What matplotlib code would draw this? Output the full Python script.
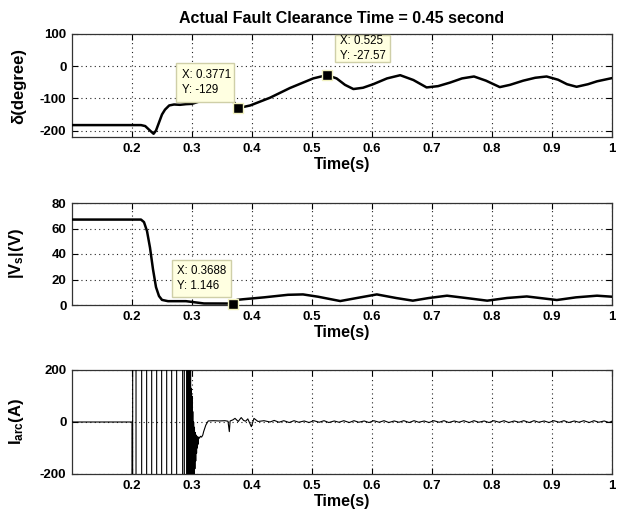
import matplotlib
matplotlib.use("Agg")
import matplotlib.pyplot as plt
import numpy as np
from matplotlib.patches import Rectangle

plt.rcParams['font.family'] = ['Liberation Sans', 'DejaVu Sans']
plt.rcParams['mathtext.fontset'] = 'custom'
plt.rcParams['mathtext.rm'] = 'Liberation Sans:bold'
plt.rcParams['mathtext.bf'] = 'Liberation Sans:bold'
plt.rcParams['mathtext.it'] = 'Liberation Sans:bold'

# ---- data ----
# rotor angle delta (degree)
t_delta = [0.10, 0.215, 0.222, 0.230, 0.236, 0.240, 0.245, 0.250, 0.255, 0.262, 0.270, 0.280,
           0.290, 0.300, 0.320, 0.350, 0.370, 0.3771, 0.385, 0.397, 0.430, 0.463, 0.502, 0.525,
           0.541, 0.555, 0.569, 0.585, 0.602, 0.625, 0.647, 0.669, 0.691, 0.710, 0.730, 0.750,
           0.770, 0.790, 0.813, 0.830, 0.852, 0.872, 0.891, 0.910, 0.925, 0.941, 0.960, 0.975, 1.0]
delta = [-183, -183, -186, -200, -210, -200, -175, -150, -135, -122, -119, -120,
         -118, -117, -105, -100, -112, -129, -127, -122, -98, -68, -38, -27.57,
         -38, -58, -71, -67, -56, -38, -28, -43, -66, -62, -51, -38,
         -32, -45, -65, -58, -45, -36, -32, -42, -56, -64, -56, -47, -37]

# |Vs| (V)
t_vs = [0.10, 0.215, 0.220, 0.225, 0.230, 0.235, 0.240, 0.245, 0.250, 0.260, 0.290, 0.300,
        0.320, 0.3688, 0.375, 0.385, 0.420, 0.460, 0.485, 0.510, 0.547, 0.575, 0.608, 0.640,
        0.668, 0.695, 0.725, 0.760, 0.792, 0.825, 0.858, 0.885, 0.908, 0.940, 0.975, 1.0]
vs = [67, 67, 65, 58, 45, 28, 14, 7, 4, 3, 3, 2.4,
      1.2, 1.146, 4, 4.5, 6, 8, 8.3, 6.5, 3.1, 5.5, 8.3, 5.5,
      3.4, 5.5, 7.3, 5.3, 3.4, 5.5, 6.7, 5.2, 3.9, 6, 7.3, 6.5]

# Iarc (A): zero crossings of the large (clipped) fault current
arc_cross = [0.2011, 0.2067, 0.2161, 0.2244, 0.2328, 0.2411, 0.2494, 0.2578, 0.2661,
             0.2744, 0.2844, 0.2872, 0.2911, 0.2925, 0.2940, 0.2952, 0.2965, 0.2978]
arc_peak = 3000
# decaying part after clearing
t_arc_tail = [0.2985, 0.2992, 0.2999, 0.3006, 0.3013, 0.3020, 0.3027, 0.3034, 0.3041, 0.3048,
              0.3055, 0.3062, 0.3069, 0.3076, 0.3083, 0.3090, 0.3097, 0.3104, 0.3110, 0.3125,
              0.3140, 0.3160, 0.3180, 0.3194, 0.3230, 0.3270, 0.3356, 0.3450, 0.3550, 0.3600,
              0.3622, 0.3635, 0.3680, 0.3717, 0.3770, 0.3820, 0.3860, 0.3894, 0.3930, 0.3989,
              0.4033, 0.4100, 0.4200]
arc_tail = [130, -220, 100, -220, 40, -220, 0, -200, -20, -180,
            -40, -150, -50, -120, -55, -100, -60, -85, -58, -62,
            -55, -58, -50, -37, -12, 4, 5, 4, 5, 3,
            -37, 4, 8, 14, 2, 17, 6, 3, 12, -18,
            14, 2, 5]
# small ripple to the end
t_ripple = [0.430, 0.437, 0.445, 0.453, 0.462, 0.470, 0.478, 0.487, 0.495, 0.503,
            0.512, 0.520, 0.528, 0.537, 0.545, 0.553, 0.562, 0.570, 0.578, 0.587,
            0.595, 0.603, 0.612, 0.620, 0.628, 0.637, 0.645, 0.653, 0.662, 0.670,
            0.678, 0.687, 0.695, 0.703, 0.712, 0.720, 0.728, 0.737, 0.745, 0.753,
            0.762, 0.770, 0.778, 0.787, 0.795, 0.803, 0.812, 0.820, 0.828, 0.837,
            0.845, 0.853, 0.862, 0.870, 0.878, 0.887, 0.895, 0.903, 0.912, 0.920,
            0.928, 0.937, 0.945, 0.953, 0.962, 0.970, 0.978, 0.987, 0.995, 1.0]
ripple = [0, 6, -1, 5, -2, 5, -1, 4, -2, 5,
          -1, 5, -2, 4, -1, 5, -2, 5, -1, 4,
          -2, 5, -1, 5, -2, 4, -1, 5, -2, 5,
          -1, 4, -2, 5, -1, 5, -2, 4, -1, 5,
          -2, 5, -1, 4, -2, 5, -1, 5, -2, 4,
          -1, 5, -2, 5, -1, 4, -2, 5, -1, 5,
          -2, 4, -1, 5, -2, 5, -1, 4, -2, 3]

xticks = [0.2, 0.3, 0.4, 0.5, 0.6, 0.7, 0.8, 0.9, 1.0]
xticklabels = ['0.2', '0.3', '0.4', '0.5', '0.6', '0.7', '0.8', '0.9', '1']

# build the clipped current path from the crossings
t_arc = [0.1, 0.2, 0.2]
i_arc = [0, 0, -arc_peak]
sign = -1
for c in arc_cross:
    t_arc += [c, c]
    i_arc += [sign * arc_peak, -sign * arc_peak]
    sign = -sign
t_arc = t_arc + t_arc_tail + t_ripple
i_arc = i_arc + arc_tail + ripple

fig = plt.figure(figsize=(6.23, 5.15), dpi=100)
W, H = 623.0, 515.0
ax1 = fig.add_axes([72 / W, (H - 137) / H, 540 / W, 103 / H])
ax2 = fig.add_axes([72 / W, (H - 305) / H, 540 / W, 102 / H])
ax3 = fig.add_axes([72 / W, (H - 474) / H, 540 / W, 104 / H])


def style(ax, yticks, ylabel):
    ax.set_xlim(0.1, 1.0)
    ax.set_xticks(xticks)
    ax.set_xticklabels(xticklabels)
    ax.set_yticks(yticks)
    ax.set_yticklabels([str(v) for v in yticks])
    ax.grid(True, linestyle=(0, (1, 3)), color='#222222', linewidth=0.8)
    ax.tick_params(direction='in', top=True, right=True, length=4, width=0.8,
                   labelsize=9.5, pad=4, colors='k')
    for lab in ax.get_xticklabels() + ax.get_yticklabels():
        lab.set_fontweight('bold')
    for s in ax.spines.values():
        s.set_linewidth(0.9)
        s.set_color('#333333')
    ax.set_xlabel('Time(s)', fontsize=11.5, fontweight='bold', labelpad=2)
    ax.set_ylabel(ylabel, fontsize=12, fontweight='bold')
    ax.yaxis.set_label_coords(-0.085, 0.5)


def datatip(ax, x, y, box, text):
    x0, y0, x1, y1 = box
    ax.add_patch(Rectangle((x0, y0), x1 - x0, y1 - y0, transform=ax.transAxes,
                           facecolor='#FFFFE1', edgecolor='#CFCFA8', linewidth=1.0, zorder=5))
    ax.text(x0 + 0.01, (y0 + y1) / 2, text, transform=ax.transAxes, fontsize=8.3,
            va='center', ha='left', linespacing=1.25, zorder=6)
    ax.plot([x], [y], marker='s', ms=6.5, mfc='k', mec='#F2F2C0', mew=1.0, zorder=7,
            clip_on=False)


# top: delta
ax1.plot(t_delta, delta, color='k', linewidth=1.8, zorder=3)
ax1.set_ylim(-220, 100)
style(ax1, [-200, -100, 0, 100], 'δ(degree)')
ax1.set_title('Actual Fault Clearance Time = 0.45 second', fontsize=11.5, fontweight='bold', pad=8)
datatip(ax1, 0.3771, -129, (0.193, 0.34, 0.300, 0.718), 'X: 0.3771\nY: -129')
datatip(ax1, 0.525, -27.57, (0.487, 0.728, 0.589, 0.99), 'X: 0.525\nY: -27.57')

# middle: |Vs|
ax2.plot(t_vs, vs, color='k', linewidth=1.8, zorder=3)
ax2.set_ylim(0, 80)
style(ax2, [0, 20, 40, 60, 80], r'$\mathbf{|V_s|(V)}$')
datatip(ax2, 0.3688, 1.146, (0.185, 0.078, 0.295, 0.441), 'X: 0.3688\nY: 1.146')

# bottom: Iarc
ax3.plot(t_arc, i_arc, color='k', linewidth=0.8, zorder=3)
ax3.set_ylim(-200, 200)
style(ax3, [-200, 0, 200], r'$\mathbf{I_{arc}(A)}$')

fig.savefig('out.png', dpi=100)
